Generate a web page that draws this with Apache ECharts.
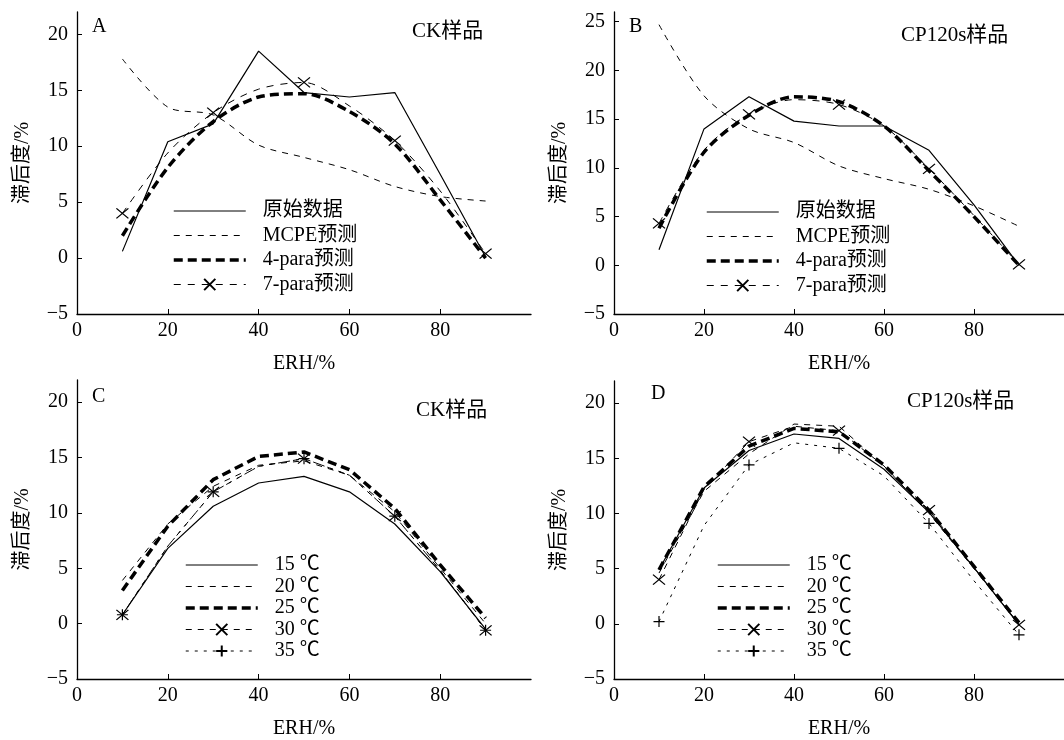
<!DOCTYPE html>
<html>
<head>
<meta charset="utf-8">
<script src="https://cdn.jsdelivr.net/npm/echarts@6/dist/echarts.min.js"></script>
<style>
  html, body { margin: 0; padding: 0; background: #fff; }
  #chart { width: 1064px; height: 740px; }
</style>
</head>
<body>
<div id="chart"></div>
<script>
// Equilibrium relative humidity (%) at which each curve is evaluated
const erh = [10, 20, 30, 40, 50, 60, 70, 80, 90];
const xTicks = [0, 20, 40, 60, 80];
const yTicksAC = [-5, 0, 5, 10, 15, 20];
const yTicksB = [-5, 0, 5, 10, 15, 20, 25];

// A: CK sample, hysteresis (%) — measured vs. model predictions
const aRaw   = [0.6, 10.4, 12.0, 18.5, 14.8, 14.4, 14.8, 7.5, 0.1];
const aMcpe  = [17.8, 13.5, 12.8, 10.1, 9.0, 7.9, 6.4, 5.5, 5.1];
const aPara4 = [2.0, 8.1, 12.2, 14.4, 14.7, 13.1, 10.2, 5.2, 0.0];
const aPara7 = [4.0, 9.4, 13.0, 15.1, 15.7, 13.6, 10.5, 6.0, 0.4];

// B: CP120s sample
const bRaw   = [1.6, 14.0, 17.3, 14.8, 14.3, 14.3, 11.8, 6.2, 0.0];
const bMcpe  = [24.7, 17.4, 14.0, 12.6, 10.2, 8.9, 7.8, 6.1, 4.0];
const bPara4 = [3.8, 11.6, 15.4, 17.3, 16.8, 14.3, 9.7, 5.0, 0.0];
const bPara7 = [4.3, 11.8, 15.5, 17.0, 16.5, 14.3, 9.9, 5.1, 0.1];

// C: CK sample at different temperatures
const cT15 = [0.8, 6.8, 10.6, 12.7, 13.3, 11.9, 9.0, 4.7, -0.5];
const cT20 = [3.9, 9.0, 12.4, 14.3, 14.7, 13.4, 10.1, 5.0, 0.0];
const cT25 = [3.0, 8.8, 13.0, 15.1, 15.5, 13.9, 10.4, 5.3, 0.5];
const cT30 = [0.8, 7.0, 11.9, 14.2, 14.9, 13.4, 9.7, 4.8, -0.6];
const cT35 = [0.8, 7.0, 11.9, 14.2, 14.9, 13.4, 9.7, 4.8, -0.6];

// D: CP120s sample at different temperatures
const dT15 = [4.9, 12.3, 15.7, 17.2, 16.8, 14.0, 10.1, 5.1, -0.1];
const dT20 = [4.6, 12.0, 15.4, 18.1, 17.9, 14.3, 10.0, 5.0, 0.0];
const dT25 = [4.9, 12.4, 16.1, 17.7, 17.4, 14.4, 10.3, 5.2, 0.1];
const dT30 = [4.0, 12.2, 16.5, 17.9, 17.5, 14.3, 10.3, 5.1, -0.1];
const dT35 = [0.2, 8.9, 14.4, 16.4, 15.9, 13.4, 9.1, 3.9, -1.0];

const namesAB = ['原始数据', 'MCPE预测', '4-para预测', '7-para预测'];
const namesCD = ['15 ℃', '20 ℃', '25 ℃', '30 ℃', '35 ℃'];
const thickNames = ['4-para预测', '25 ℃'];

const FONT = "'Liberation Serif', 'Times New Roman', 'Noto Sans CJK SC', serif";
const BLACK = '#000';
const CLEAR = 'rgba(0,0,0,0)';
const CROSS = 'path://M0,0L12,10M12,0L0,10';
const PLUS = 'path://M6,0L6,12M0,6L12,6';

// markers only on every other point (10, 30, 50, 70, 90)
function points(ys, marked) {
  return ys.map((y, i) => marked && i % 2 === 0
    ? { value: [erh[i], y] }
    : { value: [erh[i], y], symbol: 'none' });
}

function lineSeries(name, ys, idx, style) {
  const marked = !!style.marker;
  return {
    name: name,
    type: 'line',
    xAxisIndex: idx,
    yAxisIndex: idx,
    data: points(ys, marked),
    smooth: style.smooth || false,
    // unmarked curves keep an invisible symbol so the legend draws just the line
    symbol: marked ? style.marker : 'circle',
    showSymbol: marked,
    symbolSize: style.marker === PLUS ? [11, 11] : [12, 10],
    itemStyle: marked
      ? { color: BLACK, borderColor: BLACK, borderWidth: 1.2 }
      : { color: CLEAR, borderColor: CLEAR, borderWidth: 0 },
    lineStyle: { color: BLACK, width: style.width || 1, type: style.dash || 'solid' },
    emphasis: { disabled: true },
    animation: false
  };
}

const thinDash = [6, 6];
const thickDash = [9, 5];

const series = [
  lineSeries('原始数据', aRaw, 0, { width: 1.2 }),
  lineSeries('MCPE预测', aMcpe, 0, { dash: thinDash, smooth: 0.3 }),
  lineSeries('4-para预测', aPara4, 0, { dash: thickDash, width: 3.5, smooth: 0.3 }),
  lineSeries('7-para预测', aPara7, 0, { dash: [7, 7], marker: CROSS, smooth: 0.3 }),

  lineSeries('原始数据', bRaw, 1, { width: 1.2 }),
  lineSeries('MCPE预测', bMcpe, 1, { dash: thinDash, smooth: 0.3 }),
  lineSeries('4-para预测', bPara4, 1, { dash: thickDash, width: 3.5, smooth: 0.3 }),
  lineSeries('7-para预测', bPara7, 1, { dash: [7, 7], marker: CROSS, smooth: 0.3 }),

  lineSeries('15 ℃', cT15, 2, { width: 1.2 }),
  lineSeries('20 ℃', cT20, 2, { dash: thinDash }),
  lineSeries('25 ℃', cT25, 2, { dash: thickDash, width: 3.5 }),
  lineSeries('30 ℃', cT30, 2, { dash: thinDash, marker: CROSS }),
  lineSeries('35 ℃', cT35, 2, { dash: [3, 6], marker: PLUS }),

  lineSeries('15 ℃', dT15, 3, { width: 1.2 }),
  lineSeries('20 ℃', dT20, 3, { dash: thinDash }),
  lineSeries('25 ℃', dT25, 3, { dash: thickDash, width: 3.5 }),
  lineSeries('30 ℃', dT30, 3, { dash: thinDash, marker: CROSS }),
  lineSeries('35 ℃', dT35, 3, { dash: [3, 6], marker: PLUS })
];

const grids = [
  { left: 77, top: 12, width: 454, height: 302 },
  { left: 614, top: 12, width: 453.5, height: 302 },
  { left: 77, top: 380, width: 454, height: 302 },
  { left: 614, top: 381, width: 453.5, height: 302 }
];

function xAxis(idx) {
  return {
    type: 'value', gridIndex: idx, min: 0, max: 100,
    name: 'ERH/%', nameLocation: 'middle', nameGap: 40,
    nameTextStyle: { color: BLACK, fontSize: 20, fontFamily: FONT },
    axisLine: { show: true, onZero: false, lineStyle: { color: BLACK, width: 1.3 } },
    axisTick: { show: true, inside: true, length: 5, customValues: xTicks, lineStyle: { color: BLACK } },
    axisLabel: { customValues: xTicks, color: BLACK, fontSize: 20, fontFamily: FONT, margin: 7 },
    splitLine: { show: false }
  };
}

function yAxis(idx, max, ticks) {
  return {
    type: 'value', gridIndex: idx, min: -5, max: max,
    name: '滞后度/%', nameLocation: 'middle', nameGap: 44,
    nameTextStyle: { color: BLACK, fontSize: 20, fontFamily: FONT },
    axisLine: { show: true, onZero: false, lineStyle: { color: BLACK, width: 1.3 } },
    axisTick: { show: true, inside: true, length: 5, customValues: ticks, lineStyle: { color: BLACK } },
    axisLabel: {
      customValues: ticks, color: BLACK, fontSize: 20, fontFamily: FONT, margin: 9,
      formatter: v => String(v).replace('-', '\u2212')
    },
    splitLine: { show: false }
  };
}

function legend(names, left, top, gap) {
  return {
    data: names.map(n => ({
      name: n,
      lineStyle: { width: thickNames.includes(n) ? 3.5 : 1 }
    })),
    orient: 'vertical', left: left, top: top, padding: 0,
    itemWidth: 72, itemHeight: 14, itemGap: gap,
    selectedMode: false,
    textStyle: { color: BLACK, fontSize: 20, lineHeight: 20, fontFamily: FONT, padding: [0, 0, 0, 12] }
  };
}

function label(text, x, y, size) {
  return {
    type: 'text', left: x, top: y,
    style: { text: text, fill: BLACK, font: (size || 20) + 'px ' + FONT }
  };
}

const option = {
  backgroundColor: '#fff',
  animation: false,
  grid: grids,
  xAxis: [xAxis(0), xAxis(1), xAxis(2), xAxis(3)],
  yAxis: [yAxis(0, 22, yTicksAC), yAxis(1, 26, yTicksB), yAxis(2, 22, yTicksAC), yAxis(3, 22, yTicksAC)],
  legend: [
    legend(namesAB, 172, 201, 4.5),
    legend(namesAB, 705, 202, 4.5),
    legend(namesCD, 184, 555, 1.5),
    legend(namesCD, 716, 555, 1.5)
  ],
  graphic: [
    label('A', 92, 17),
    label('CK样品', 412, 21, 21),
    label('B', 629, 17),
    label('CP120s样品', 901, 25, 21),
    label('C', 92, 387),
    label('CK样品', 416, 400, 21),
    label('D', 651, 384),
    label('CP120s样品', 907, 391, 21)
  ],
  series: series
};

const chart = echarts.init(document.getElementById('chart'), null, { renderer: 'canvas' });
chart.setOption(option);
</script>
</body>
</html>
